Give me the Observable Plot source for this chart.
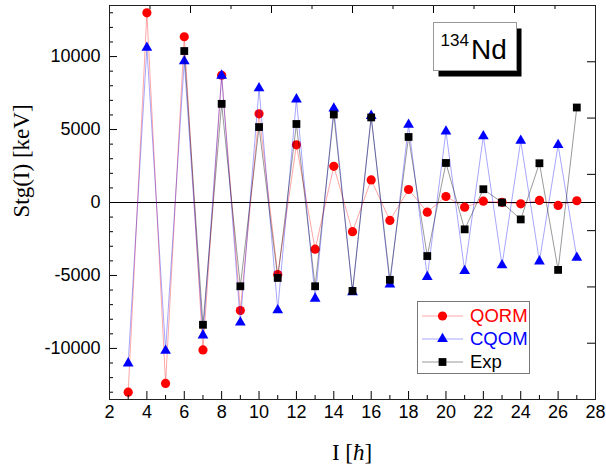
<!DOCTYPE html>
<html>
<head>
<meta charset="utf-8">
<script src="https://cdn.jsdelivr.net/npm/d3@7"></script>
<script src="https://cdn.jsdelivr.net/npm/@observablehq/plot@0.6"></script>
<style>
  html, body { margin: 0; padding: 0; background: #fff; }
  #chart svg { display: block; }
</style>
</head>
<body>
<div id="chart"></div>
<script>
// Spin values
const spinTheory = [3,4,5,6,7,8,9,10,11,12,13,14,15,16,17,18,19,20,21,22,23,24,25,26,27];
const spinExp = [6,7,8,9,10,11,12,13,14,15,16,17,18,19,20,21,22,23,24,25,26,27];

// Staggering Stg(I) in keV
const qorm = [-13000,13000,-12400,11360,-10100,8720,-7400,6080,-4940,3950,-3200,2480,-2000,1550,-1230,890,-660,410,-320,90,10,-90,140,-200,120];
const cqom = [-11020,10610,-10150,9680,-9100,8700,-8220,7830,-7380,7070,-6580,6450,-6150,5940,-5620,5330,-5100,4870,-4690,4550,-4300,4235,-4030,3940,-3780];
const expv = [10380,-8380,6760,-5740,5170,-5170,5380,-5740,6030,-6060,5830,-5300,4490,-3670,2710,-1840,910,0,-1160,2690,-4620,6510];

// Axis ticks
const xMajor = [2,4,6,8,10,12,14,16,18,20,22,24,26,28];
const xMinor = [3,5,7,9,11,13,15,17,19,21,23,25,27];
const yMajor = [-10000,-5000,0,5000,10000];
const yMinor = [-13000,-12000,-11000,-9000,-8000,-7000,-6000,-4000,-3000,-2000,-1000,1000,2000,3000,4000,6000,7000,8000,9000,11000,12000,13000];
const xDomain = [2, 28];
const yDomain = [-13500, 13500];
const xTop = d3.range(0, 7).map(k => 2 + 26 * k / 6);
const xTopMinor = d3.range(0, 6).map(k => 2 + 26 * (k + 0.5) / 6);
const yRight = d3.range(1, 7).map(k => -13500 + 27000 * k / 7);

const series = [
  {name: "QORM", color: "#ff0000", line: "rgba(255,0,0,0.35)", symbol: "circle", r: 4.6, I: spinTheory, v: qorm},
  {name: "CQOM", color: "#0000ff", line: "rgba(0,0,255,0.35)", symbol: "triangle", r: 4.0, I: spinTheory, v: cqom},
  {name: "Exp", color: "#000000", line: "rgba(0,0,0,0.4)", symbol: "square", r: 4.4, I: spinExp, v: expv}
];
const tables = series.map(s => s.I.map((I, i) => ({I, v: s.v[i]})));

const sans = "'Liberation Sans', Arial, sans-serif";
const serif = "'Liberation Serif', 'Times New Roman', serif";
const W = 606, H = 468, mL = 109, mR = 11, mT = 5, mB = 69;
const fw = W - mL - mR, fh = H - mT - mB;

const marks = [
  Plot.ruleY([0], {stroke: "#000", strokeWidth: 1}),
];
series.forEach((s, i) => {
  marks.push(Plot.line(tables[i], {x: "I", y: "v", stroke: s.line, strokeWidth: 1}));
  marks.push(Plot.dot(tables[i], {x: "I", y: "v", symbol: () => s.symbol, fill: s.color, stroke: "none", r: s.r}));
});
marks.push(
  // inward ticks
  Plot.tickX(xMajor, {x: d => d, insetTop: fh - 8, stroke: "#000"}),
  Plot.tickX(xMinor, {x: d => d, insetTop: fh - 4, stroke: "#000"}),
  Plot.tickX(xTop, {x: d => d, insetBottom: fh - 8, stroke: "#000"}),
  Plot.tickX(xTopMinor, {x: d => d, insetBottom: fh - 4, stroke: "#000"}),
  Plot.tickY(yMajor, {y: d => d, insetRight: fw - 8, stroke: "#000"}),
  Plot.tickY(yMinor, {y: d => d, insetRight: fw - 4, stroke: "#000"}),
  Plot.tickY(yRight, {y: d => d, insetLeft: fw - 8, stroke: "#000"}),
  Plot.frame({stroke: "#222", strokeWidth: 1}),
  Plot.axisX(xMajor, {anchor: "bottom", tickSize: 0, tickPadding: 6, fontSize: 18, fontFamily: sans, label: null, tickFormat: d => String(d)}),
  Plot.axisY(yMajor, {anchor: "left", tickSize: 0, tickPadding: 9, fontSize: 18, fontFamily: sans, label: null, tickFormat: d => String(d)}),
  Plot.text(["Stg(I) [keV]"], {frameAnchor: "left", dx: -88, dy: 15, rotate: -90, fontSize: 23, fontFamily: serif, text: d => d})
);

const chart = Plot.plot({
  width: W, height: H,
  marginLeft: mL, marginRight: mR, marginTop: mT, marginBottom: mB,
  style: {background: "#fff", color: "#000", fontFamily: sans},
  x: {domain: xDomain},
  y: {domain: yDomain},
  symbol: {domain: ["circle", "triangle", "square"], range: ["circle", "triangle", "square"]},
  marks
});
document.getElementById("chart").appendChild(chart);

// Annotations
const svg = d3.select(chart);

// x label with italic hbar
const xl = svg.append("text")
  .attr("x", mL + fw / 2).attr("y", H - mB + 53).attr("dy", "0.35em")
  .attr("text-anchor", "middle").attr("font-family", serif).attr("font-size", 23).attr("fill", "#000");
xl.append("tspan").text("I [");
xl.append("tspan").attr("font-style", "italic").text("ħ");
xl.append("tspan").text("]");

// 134Nd box with shadow
const bx = 433.5, by = 22.5, bw = 83, bh = 48;
svg.append("rect").attr("x", bx + 5).attr("y", by + 6).attr("width", bw).attr("height", bh).attr("fill", "#000");
svg.append("rect").attr("x", bx).attr("y", by).attr("width", bw).attr("height", bh).attr("fill", "#fff").attr("stroke", "#999");
const nd = svg.append("text").attr("font-family", sans).attr("fill", "#000").attr("text-anchor", "start");
nd.append("tspan").attr("x", 440.5).attr("y", 45.5).attr("font-size", 17).text("134");
nd.append("tspan").attr("x", 471).attr("y", 58.5).attr("font-size", 28).text("Nd");

// Legend
const lx = 417.5, ly = 301.5, lw = 112, lh = 72;
svg.append("rect").attr("x", lx).attr("y", ly).attr("width", lw).attr("height", lh).attr("fill", "#fff").attr("stroke", "#777");
const rows = [316, 339, 362];
const symMap = {circle: d3.symbolCircle, triangle: d3.symbolTriangle, square: d3.symbolSquare};
series.forEach((s, i) => {
  const yy = rows[i];
  svg.append("line").attr("x1", 422).attr("x2", 463).attr("y1", yy).attr("y2", yy).attr("stroke", s.line).attr("stroke-width", 1);
  svg.append("path").attr("d", d3.symbol(symMap[s.symbol], Math.PI * s.r * s.r)())
    .attr("transform", `translate(442.5,${yy})`).attr("fill", s.color);
  svg.append("text").attr("x", 470).attr("y", yy).attr("dy", "0.35em").attr("text-anchor", "start")
    .attr("font-family", sans).attr("font-size", 18.5).attr("fill", s.color).text(s.name);
});
</script>
</body>
</html>
